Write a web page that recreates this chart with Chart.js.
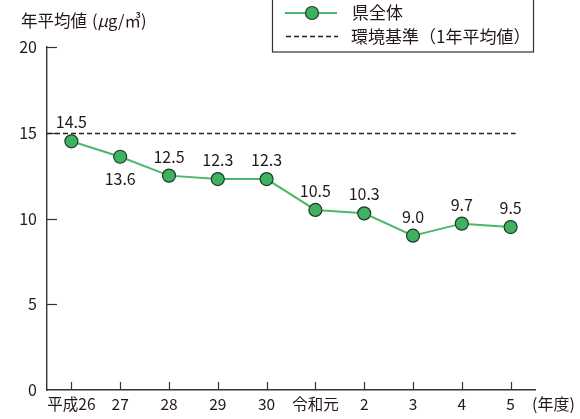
<!DOCTYPE html>
<html><head><meta charset="utf-8">
<script src="https://cdn.jsdelivr.net/npm/chart.js@4"></script>
<style>html,body{margin:0;padding:0;background:#fff}#wrap{width:580px;height:419px;position:relative}</style>
</head><body><div id="wrap"><canvas id="c" width="580" height="419"></canvas></div>
<script>
const categories = ['平成26','27','28','29','30','令和元','2','3','4','5'];
const prefValues = [14.5, 13.6, 12.5, 12.3, 12.3, 10.5, 10.3, 9.0, 9.7, 9.5];
const standardValue = 15;
const yTicks = [0, 5, 10, 15, 20];
const seriesName = '県全体';
const standardName = '環境基準（1年平均値）';
const yTitleMain = '年平均値';
const yTitleOpen = '(';
const yTitleUnit = 'μ';
const yTitleRest = 'g/㎥)';
const xUnit = '(年度)';

const FONT = '"Noto Sans CJK JP", "Noto Sans", sans-serif';
const TXT = '#231815';
const GREEN_LINE = '#4cb968';
const GREEN_FILL = '#3fb262';
const PT_STROKE = '#1e3b27';

const extras = {
  id: 'extras',
  afterDraw(chart) {
    const ctx = chart.ctx, x = chart.scales.x, y = chart.scales.y, a = chart.chartArea;
    ctx.save();
    ctx.strokeStyle = '#333'; ctx.lineWidth = 1.2;
    yTicks.forEach(v => { if (v === 0) return; const py = Math.round(y.getPixelForValue(v)) + 0.5;
      ctx.beginPath(); ctx.moveTo(a.left, py); ctx.lineTo(a.left + 10, py); ctx.stroke(); });
    categories.forEach((c, i) => { const px = Math.round(x.getPixelForValue(i)) + 0.5;
      ctx.beginPath(); ctx.moveTo(px, a.bottom); ctx.lineTo(px, a.bottom - 8); ctx.stroke(); });
    const sy = Math.round(y.getPixelForValue(standardValue)) + 0.5;
    ctx.strokeStyle = '#222'; ctx.lineWidth = 1.4; ctx.setLineDash([5, 3]);
    ctx.beginPath(); ctx.moveTo(a.left, sy); ctx.lineTo(x.getPixelForValue(categories.length - 1) + 5, sy); ctx.stroke();
    ctx.setLineDash([]);
    ctx.fillStyle = TXT; ctx.font = '16px ' + FONT; ctx.textAlign = 'center'; ctx.textBaseline = 'middle';
    const meta = chart.getDatasetMeta(0);
    meta.data.forEach((p, i) => {
      const below = i === 1;
      ctx.fillText(prefValues[i].toFixed(1), p.x, p.y + (below ? 22 : -19));
    });
    ctx.textAlign = 'left'; ctx.font = '16.5px ' + FONT;
    let tx = 21;
    ctx.fillText(yTitleMain, tx, 21); tx += ctx.measureText(yTitleMain).width + 5;
    ctx.fillText(yTitleOpen, tx, 21); tx += ctx.measureText(yTitleOpen).width;
    ctx.font = 'italic 16.5px ' + FONT;
    ctx.fillText(yTitleUnit, tx, 21); tx += ctx.measureText(yTitleUnit).width;
    ctx.font = '16.5px ' + FONT;
    ctx.fillText(yTitleRest, tx, 21);
    ctx.font = '16px ' + FONT;
    ctx.fillText(xUnit, 532, 404);
    ctx.strokeStyle = '#333'; ctx.lineWidth = 1.2;
    ctx.strokeRect(272.5, -1, 261, 53);
    ctx.strokeStyle = GREEN_LINE; ctx.lineWidth = 2;
    ctx.beginPath(); ctx.moveTo(285, 13); ctx.lineTo(337, 13); ctx.stroke();
    ctx.beginPath(); ctx.arc(312, 13, 6.5, 0, Math.PI * 2); ctx.fillStyle = GREEN_FILL; ctx.fill();
    ctx.strokeStyle = PT_STROKE; ctx.lineWidth = 1.2; ctx.stroke();
    ctx.strokeStyle = '#222'; ctx.lineWidth = 1.4; ctx.setLineDash([5, 3]);
    ctx.beginPath(); ctx.moveTo(286, 36.5); ctx.lineTo(338, 36.5); ctx.stroke(); ctx.setLineDash([]);
    ctx.fillStyle = TXT; ctx.font = '17px ' + FONT;
    ctx.fillText(seriesName, 352, 13);
    ctx.fillText(standardName, 351, 37);
    ctx.restore();
  }
};

new Chart(document.getElementById('c'), {
  type: 'line',
  data: {
    labels: categories,
    datasets: [{
      label: seriesName, data: prefValues,
      borderColor: GREEN_LINE, borderWidth: 2,
      pointBackgroundColor: GREEN_FILL, pointBorderColor: PT_STROKE, pointBorderWidth: 1.2,
      pointRadius: 6.5, tension: 0
    }]
  },
  options: {
    responsive: false, animation: false, devicePixelRatio: 1,
    layout: { padding: { left: 0, top: 47, right: 45, bottom: 0 } },
    plugins: { legend: { display: false }, tooltip: { enabled: false } },
    scales: {
      x: {
        offset: true,
        grid: { display: false, drawTicks: false },
        border: { display: true, color: '#333', width: 1.4 },
        ticks: { color: TXT, font: { family: FONT, size: 15.5 }, padding: 5, maxRotation: 0, autoSkip: false },
        afterFit(s) { s.height = 29; }
      },
      y: {
        min: 0, max: 20,
        grid: { display: false, drawTicks: false },
        border: { display: true, color: '#333', width: 1.4 },
        afterBuildTicks(s) { s.ticks = yTicks.map(v => ({ value: v })); },
        ticks: { color: TXT, font: { family: FONT, size: 16 }, padding: 10 },
        afterFit(s) { s.width = 47; }
      }
    }
  },
  plugins: [extras]
});
</script></body></html>
